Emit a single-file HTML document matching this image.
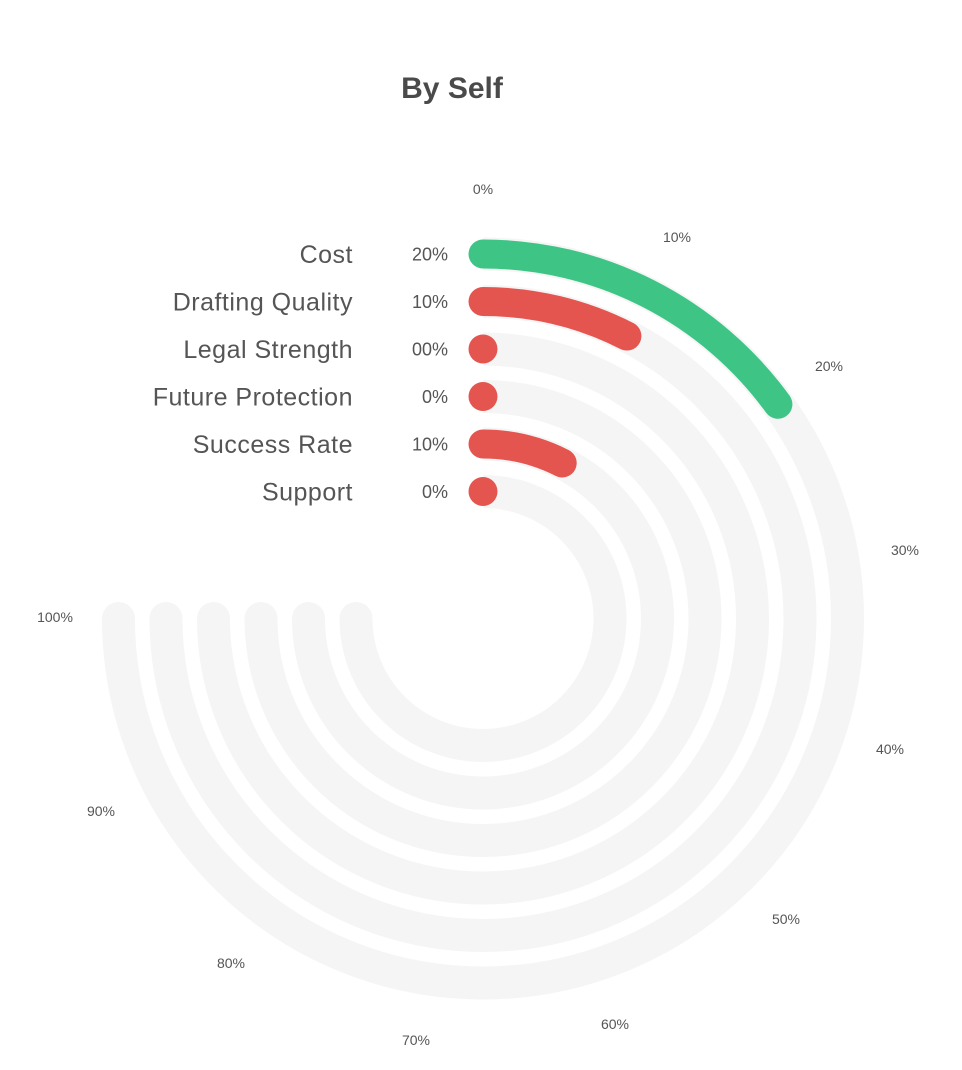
<!DOCTYPE html>
<html>
<head>
<meta charset="utf-8">
<style>
html,body{margin:0;padding:0;background:#fff;}
svg{display:block;}
</style>
</head>
<body>
<svg width="962" height="1070" viewBox="0 0 962 1070" xmlns="http://www.w3.org/2000/svg">
<rect width="962" height="1070" fill="#ffffff"/>
<text x="452" y="98" text-anchor="middle" font-family="Liberation Sans, sans-serif" font-weight="bold" font-size="30" fill="#4a4a4a">By Self</text>

<g fill="none" stroke="#f5f5f5" stroke-width="33" stroke-linecap="butt">
<path d="M483 254 A364.5 364.5 0 1 1 118.5 618.5"/>
<path d="M483 301.5 A317 317 0 1 1 166 618.5"/>
<path d="M483 349 A269.5 269.5 0 1 1 213.5 618.5"/>
<path d="M483 396.5 A222 222 0 1 1 261 618.5"/>
<path d="M483 444 A174.5 174.5 0 1 1 308.5 618.5"/>
<path d="M483 491.5 A127 127 0 1 1 356 618.5"/>
</g>
<g fill="#f5f5f5">
<circle cx="118.5" cy="618.5" r="16.5"/>
<circle cx="166" cy="618.5" r="16.5"/>
<circle cx="213.5" cy="618.5" r="16.5"/>
<circle cx="261" cy="618.5" r="16.5"/>
<circle cx="308.5" cy="618.5" r="16.5"/>
<circle cx="356" cy="618.5" r="16.5"/>
</g>

<g fill="none" stroke-width="29" stroke-linecap="round">
<path d="M483 254 A364.5 364.5 0 0 1 777.9 404.25" stroke="#3ec586"/>
<path d="M483 301.5 A317 317 0 0 1 626.9 336.05" stroke="#e4554f"/>
<path d="M483 444 A174.5 174.5 0 0 1 562.2 463.0" stroke="#e4554f"/>
</g>
<g fill="#e4554f">
<circle cx="483" cy="349" r="14.5"/>
<circle cx="483" cy="396.5" r="14.5"/>
<circle cx="483" cy="491.5" r="14.5"/>
</g>

<g font-family="Liberation Sans, sans-serif" font-size="25" fill="#555" text-anchor="end" letter-spacing="0.5">
<text x="353" y="263">Cost</text>
<text x="353" y="310.5">Drafting Quality</text>
<text x="353" y="358">Legal Strength</text>
<text x="353" y="405.5">Future Protection</text>
<text x="353" y="453">Success Rate</text>
<text x="353" y="500.5">Support</text>
</g>

<g font-family="Liberation Sans, sans-serif" font-size="18" fill="#555" text-anchor="end">
<text x="448" y="260.5">20%</text>
<text x="448" y="308">10%</text>
<text x="448" y="355.5">00%</text>
<text x="448" y="403">0%</text>
<text x="448" y="450.5">10%</text>
<text x="448" y="498">0%</text>
</g>

<g font-family="Liberation Sans, sans-serif" font-size="14" fill="#555" text-anchor="middle">
<text x="483" y="194">0%</text>
<text x="677" y="242">10%</text>
<text x="829" y="371">20%</text>
<text x="905" y="555">30%</text>
<text x="890" y="754">40%</text>
<text x="786" y="924">50%</text>
<text x="615" y="1029">60%</text>
<text x="416" y="1045">70%</text>
<text x="231" y="968">80%</text>
<text x="101" y="816">90%</text>
<text x="55" y="622">100%</text>
</g>
</svg>
</body>
</html>
